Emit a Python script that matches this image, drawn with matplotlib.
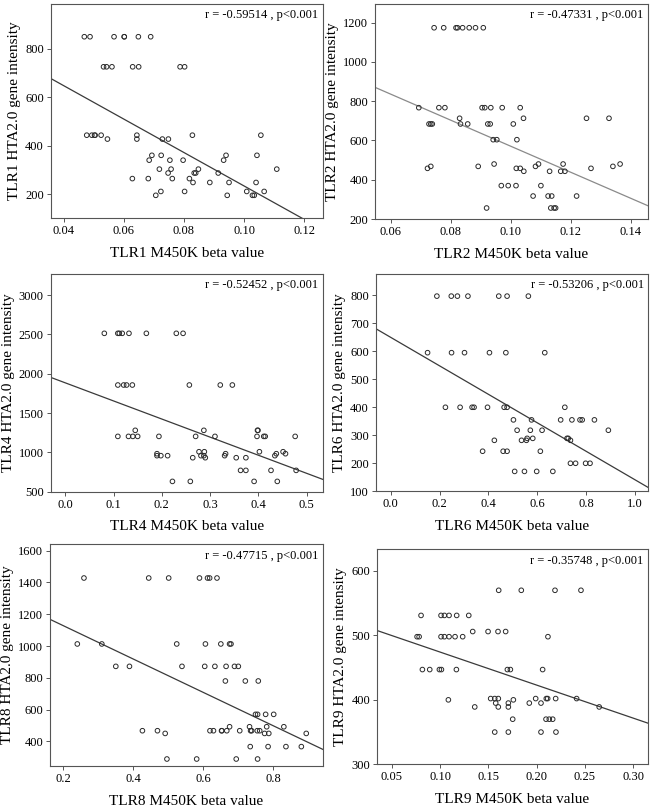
import numpy as np
import matplotlib
matplotlib.use("Agg")
import matplotlib.pyplot as plt

plt.rcParams['font.family'] = ['Liberation Serif', 'DejaVu Serif']

# ---- TLR1 ----
tlr1_beta = [0.0468, 0.0487, 0.0567, 0.0601, 0.0601, 0.0648, 0.0689,
             0.0532, 0.0542, 0.0560, 0.0629, 0.0649, 0.0787, 0.0802,
             0.0476, 0.0493, 0.0502, 0.0504, 0.0524, 0.0643, 0.0828, 0.1056,
             0.0545, 0.0643, 0.0728, 0.0748,
             0.0693, 0.0724, 0.0940, 0.1043,
             0.0684, 0.0753, 0.0797, 0.0932,
             0.0718, 0.0757, 0.0848, 0.1109,
             0.0747, 0.0834, 0.0839, 0.0914,
             0.0628, 0.0681, 0.0761, 0.0818,
             0.0830, 0.0886, 0.0950, 0.1040,
             0.0723, 0.0802, 0.1009, 0.1067,
             0.0706, 0.0944, 0.1028, 0.1034]
tlr1_hta = [850, 850, 850, 850, 850, 850, 850,
            726, 726, 726, 726, 726, 726, 726,
            444, 444, 444, 444, 444, 444, 444, 444,
            428, 428, 428, 428,
            361, 361, 361, 361,
            341, 341, 341, 341,
            304, 304, 304, 304,
            288, 288, 288, 288,
            265, 265, 265, 265,
            249, 249, 249, 249,
            212, 212, 212, 212,
            196, 196, 196, 196]

# ---- TLR2 ----
tlr2_beta = [0.0744, 0.0776, 0.0817, 0.0822, 0.0839, 0.0861, 0.0882, 0.0908,
             0.0693, 0.0760, 0.0780, 0.0904, 0.0913, 0.0933, 0.0971, 0.1031,
             0.0829, 0.1042, 0.1252, 0.1327,
             0.0727, 0.0733, 0.0738, 0.0832, 0.0856, 0.0923, 0.0931, 0.1008,
             0.0941, 0.0953, 0.1020,
             0.0944, 0.1092, 0.1174, 0.1364,
             0.0891, 0.1082, 0.1340, 0.0733,
             0.0722, 0.1018, 0.1031, 0.1267,
             0.1043, 0.1129, 0.1166, 0.1180,
             0.0968, 0.0991, 0.1017, 0.1100,
             0.1074, 0.1124, 0.1136, 0.1219,
             0.0919, 0.1133, 0.1144, 0.1149]
tlr2_hta = [1174, 1174, 1174, 1174, 1174, 1174, 1174, 1174,
            767, 767, 767, 767, 767, 767, 767, 767,
            713, 713, 713, 713,
            684, 684, 684, 684, 684, 684, 684, 684,
            604, 604, 604,
            480, 480, 480, 480,
            468, 468, 468, 468,
            458, 458, 458, 458,
            443, 443, 443, 443,
            370, 370, 370, 370,
            317, 317, 317, 317,
            256, 256, 256, 256]

# ---- TLR4 ----
tlr4_beta = [0.081, 0.109, 0.112, 0.118, 0.132, 0.168, 0.230, 0.244,
             0.109, 0.121, 0.127, 0.139, 0.257, 0.321, 0.346,
             0.145, 0.287, 0.398, 0.399,
             0.109, 0.131, 0.140, 0.150, 0.194, 0.270, 0.310, 0.397, 0.411, 0.414, 0.476,
             0.277, 0.288, 0.402, 0.451,
             0.190, 0.332, 0.437, 0.456,
             0.190, 0.198, 0.212, 0.281, 0.287, 0.330, 0.434,
             0.264, 0.290, 0.354, 0.374,
             0.363, 0.374, 0.426, 0.478,
             0.222, 0.259, 0.391, 0.439]
tlr4_hta = [2513, 2513, 2513, 2513, 2513, 2513, 2513, 2513,
            1856, 1856, 1856, 1856, 1856, 1856, 1856,
            1280, 1280, 1280, 1280,
            1203, 1203, 1203, 1203, 1203, 1203, 1203, 1203, 1203, 1203, 1203,
            1008, 1008, 1008, 1008,
            983, 983, 983, 983,
            958, 958, 958, 958, 958, 958, 958,
            932, 932, 932, 932,
            771, 771, 771, 771,
            631, 631, 631, 631]

# ---- TLR6 ----
tlr6_beta = [0.189, 0.248, 0.273, 0.316, 0.442, 0.476, 0.563,
             0.151, 0.249, 0.302, 0.404, 0.471, 0.630,
             0.224, 0.284, 0.333, 0.341, 0.396, 0.464, 0.476, 0.712,
             0.502, 0.576, 0.695, 0.741, 0.774, 0.783, 0.833,
             0.517, 0.571, 0.619, 0.890,
             0.558, 0.581, 0.721, 0.726,
             0.424, 0.535, 0.555, 0.735,
             0.376, 0.460, 0.476, 0.612,
             0.735, 0.756, 0.797, 0.815,
             0.507, 0.547, 0.597, 0.663]
tlr6_hta = [796, 796, 796, 796, 796, 796, 796,
            594, 594, 594, 594, 594, 594,
            399, 399, 399, 399, 399, 399, 399, 399,
            354, 354, 354, 354, 354, 354, 354,
            317, 317, 317, 317,
            288, 288, 288, 288,
            281, 281, 281, 281,
            242, 242, 242, 242,
            199, 199, 199, 199,
            170, 170, 170, 170]

# ---- TLR8 ----
tlr8_beta = [0.259, 0.444, 0.501, 0.589, 0.612, 0.618, 0.639,
             0.240, 0.310, 0.524, 0.606, 0.650, 0.675, 0.679,
             0.350, 0.389, 0.539, 0.604, 0.633, 0.665, 0.689, 0.700,
             0.663, 0.720, 0.757,
             0.749, 0.755, 0.778, 0.801,
             0.675, 0.732, 0.781, 0.830,
             0.426, 0.469, 0.619, 0.629, 0.652, 0.653, 0.667, 0.704, 0.735, 0.738, 0.754, 0.761,
             0.491, 0.775, 0.787, 0.894,
             0.734, 0.785, 0.836, 0.880,
             0.496, 0.581, 0.694, 0.755]
tlr8_hta = [1428, 1428, 1428, 1428, 1428, 1428, 1428,
            1013, 1013, 1013, 1013, 1013, 1013, 1013,
            872, 872, 872, 872, 872, 872, 872, 872,
            780, 780, 780,
            570, 570, 570, 570,
            492, 492, 492, 492,
            467, 467, 467, 467, 467, 467, 467, 467, 467, 467, 467, 467,
            450, 450, 450, 450,
            367, 367, 367, 367,
            289, 289, 289, 289]

# ---- TLR9 ----
tlr9_beta = [0.1607, 0.1841, 0.2190, 0.2459,
             0.0803, 0.1010, 0.1045, 0.1093, 0.1172, 0.1297,
             0.1338, 0.1497, 0.1600, 0.1679,
             0.0762, 0.0783, 0.1010, 0.1045, 0.1093, 0.1155, 0.1234, 0.2117,
             0.0817, 0.0893, 0.0993, 0.1014, 0.1169, 0.1697, 0.1728, 0.2062,
             0.1524, 0.1566, 0.1603, 0.1990, 0.2100, 0.2114, 0.2197, 0.2414, 0.1086, 0.1759,
             0.1359, 0.1576, 0.1603, 0.1707, 0.1707, 0.1924, 0.2045, 0.2648,
             0.1752, 0.2097, 0.2131, 0.2166,
             0.1566, 0.1707, 0.2045, 0.2200]
tlr9_hta = [570, 570, 570, 570,
            531, 531, 531, 531, 531, 531,
            506, 506, 506, 506,
            498, 498, 498, 498, 498, 498, 498, 498,
            447, 447, 447, 447, 447, 447, 447, 447,
            402, 402, 402, 402, 402, 402, 402, 402, 400, 400,
            389, 395, 389, 395, 389, 395, 395, 389,
            370, 370, 370, 370,
            350, 350, 350, 350]

# fitted lines as drawn in the figure (slope, intercept)
fit_slope = [-6884, -6629, -2302, -509.4, -1050, -512.5]
fit_intercept = [923.1, 1233.2, 1884, 648.9, 1338, 525.4]

r_text = ["r = -0.59514 , p<0.001", "r = -0.47331 , p<0.001", "r = -0.52452 , p<0.001",
          "r = -0.53206 , p<0.001", "r = -0.47715 , p<0.001", "r = -0.35748 , p<0.001"]
names = ["TLR1", "TLR2", "TLR4", "TLR6", "TLR8", "TLR9"]
betas = [tlr1_beta, tlr2_beta, tlr4_beta, tlr6_beta, tlr8_beta, tlr9_beta]
htas = [tlr1_hta, tlr2_hta, tlr4_hta, tlr6_hta, tlr8_hta, tlr9_hta]

xlims = [(0.0356, 0.1262), (0.0547, 0.1456), (-0.030, 0.533), (-0.061, 1.052), (0.162, 0.941), (0.035, 0.315)]
ylims = [(102.5, 985), (200, 1295), (500, 3267), (100, 875), (245, 1642), (300, 633.6)]
xticks = [[0.04, 0.06, 0.08, 0.10, 0.12], [0.06, 0.08, 0.10, 0.12, 0.14],
          [0.0, 0.1, 0.2, 0.3, 0.4, 0.5], [0.0, 0.2, 0.4, 0.6, 0.8, 1.0],
          [0.2, 0.4, 0.6, 0.8], [0.05, 0.10, 0.15, 0.20, 0.25, 0.30]]
xfmts = ["%.2f", "%.2f", "%.1f", "%.1f", "%.1f", "%.2f"]
yticks = [[200, 400, 600, 800], [200, 400, 600, 800, 1000, 1200],
          [500, 1000, 1500, 2000, 2500, 3000], [100, 200, 300, 400, 500, 600, 700, 800],
          [400, 600, 800, 1000, 1200, 1400, 1600], [300, 400, 500, 600]]
line_colors = ["#3a3a3a", "#8a8a8a", "#3a3a3a", "#3a3a3a", "#3a3a3a", "#3a3a3a"]

# axes boxes in pixels: left, top, right, bottom
boxes = [(50.7, 4, 322.7, 218), (375, 4, 647.7, 219),
         (50.7, 274, 322.7, 491.7), (375.7, 274, 648, 491),
         (50, 544, 322.7, 766), (377.3, 549.3, 647.7, 764.3)]

W, H = 650, 808
fig = plt.figure(figsize=(6.5, 8.08), dpi=100)

for i in range(6):
    l, t, r, b = boxes[i]
    ax = fig.add_axes([l / W, 1 - b / H, (r - l) / W, (b - t) / H])
    ax.scatter(betas[i], htas[i], s=11, facecolors='none', edgecolors='#2a2a2a',
               linewidths=0.7, zorder=3)
    xx = np.array(xlims[i])
    ax.plot(xx, fit_slope[i] * xx + fit_intercept[i], color=line_colors[i], lw=0.9, zorder=2)
    ax.set_xlim(xlims[i])
    ax.set_ylim(ylims[i])
    ax.set_xticks(xticks[i])
    ax.set_xticklabels([xfmts[i] % v for v in xticks[i]])
    ax.set_yticks(yticks[i])
    ax.tick_params(labelsize=9, length=3, width=0.7, color='#555555', pad=2)
    for sp in ax.spines.values():
        sp.set_color('#555555')
        sp.set_linewidth(0.8)
    ax.set_xlabel(names[i] + " M450K beta value", fontsize=11, labelpad=7)
    ax.set_ylabel(names[i] + " HTA2.0 gene intensity", fontsize=11, labelpad=3)
    ax.text(0.985, 0.975, r_text[i], transform=ax.transAxes, ha='right', va='top', fontsize=9)

fig.savefig("out.png", dpi=100)
